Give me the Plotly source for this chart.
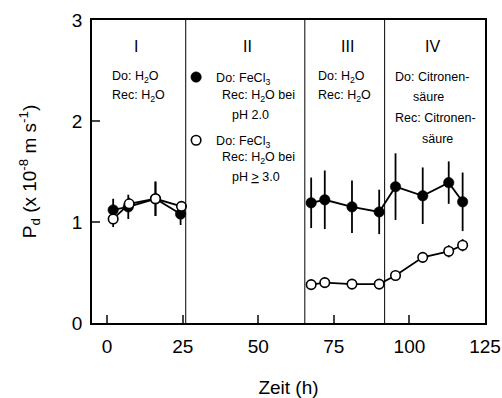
import plotly.graph_objects as go

# ---- data ----
# filled circles: Do FeCl3 / Rec H2O pH 2.0 (and section I, III, IV)
filled_x = [2, 7, 16, 24.3, None, 67.5, 72.0, 81.0, 90.0, 95.4, 104.4, 113.0, 117.6]
filled_y = [1.12, 1.15, 1.23, 1.08, None, 1.19, 1.22, 1.15, 1.10, 1.35, 1.26, 1.39, 1.20]
filled_err = [0.11, 0.12, 0.17, 0.11, None, 0.25, 0.29, 0.26, 0.22, 0.33, 0.28, 0.21, 0.29]

# open circles: Do FeCl3 / Rec H2O pH >= 3.0
open_x = [2, 7.3, 16, 24.6, None, 67.5, 72.0, 81.0, 90.0, 95.4, 104.4, 113.0, 117.6]
open_y = [1.03, 1.18, 1.23, 1.155, None, 0.38, 0.40, 0.385, 0.385, 0.47, 0.65, 0.71, 0.77]
open_err = [0.08, 0.06, 0.17, 0.05, None, 0.02, 0.02, 0.02, 0.02, 0.03, 0.03, 0.06, 0.06]

section_bounds = [26.0, 65.4, 91.8]
section_labels = ["I", "II", "III", "IV"]
section_label_x = [9.4, 46.4, 79.4, 107.5]

x_ticks = [0, 25, 50, 75, 100, 125]
y_ticks = [0, 1, 2, 3]

FONT = "Arial, Liberation Sans, sans-serif"

fig = go.Figure()

def add_series(xs, ys, errs, fill, size, lw, name, grp):
    fig.add_trace(go.Scatter(
        x=xs, y=ys, mode="lines", showlegend=False, hoverinfo="skip",
        line=dict(color="black", width=1.8),
        error_y=dict(type="data", array=errs, visible=True, color="black", thickness=1.8, width=0),
        legendgroup=grp,
    ))
    fig.add_trace(go.Scatter(
        x=xs, y=ys, mode="markers", name=name, legendgroup=grp,
        marker=dict(symbol="circle", size=size, color=fill, line=dict(color="black", width=lw)),
    ))

add_series(filled_x, filled_y, filled_err, "black", 10.5, 0.5, "Do: FeCl<sub>3</sub>", "a")
add_series(open_x, open_y, open_err, "white", 9.5, 1.6, "Do: FeCl<sub>3</sub>", "b")

shapes = []
for b in section_bounds:
    shapes.append(dict(type="line", xref="x", yref="paper", x0=b, x1=b, y0=0, y1=1,
                       line=dict(color="black", width=1)))

ann = []
for lab, lx in zip(section_labels, section_label_x):
    ann.append(dict(x=lx, y=2.74, xref="x", yref="y", text=lab, showarrow=False,
                    font=dict(family=FONT, size=16, color="black"), xanchor="center", yanchor="middle"))

def txt(x, y, t, anchor="left"):
    ann.append(dict(x=x, y=y, xref="x", yref="y", text=t, showarrow=False,
                    font=dict(family=FONT, size=12.5, color="black"), xanchor=anchor, yanchor="middle"))

# section I
txt(1.1, 2.44, "Do: H<sub>2</sub>O")
txt(1.1, 2.245, "Rec: H<sub>2</sub>O")
# section II (legend continuation)
txt(37.2, 2.245, "Rec: H<sub>2</sub>O bei")
txt(40.6, 2.06, "pH 2.0")
txt(37.2, 1.635, "Rec: H<sub>2</sub>O bei")
txt(40.6, 1.445, "pH <u>></u> 3.0")
# section III
txt(69.2, 2.44, "Do: H<sub>2</sub>O")
txt(69.2, 2.245, "Rec: H<sub>2</sub>O")
# section IV
txt(94.6, 2.44, "Do: Citronen-")
txt(106.3, 2.235, "säure", "center")
txt(94.6, 2.03, "Rec: Citronen-")
txt(109.2, 1.82, "säure", "center")

fig.update_layout(
    width=502, height=398,
    margin=dict(l=92, r=17, t=20, b=75, autoexpand=False),
    paper_bgcolor="white", plot_bgcolor="white",
    font=dict(family=FONT, color="black"),
    shapes=shapes, annotations=ann,
    showlegend=True,
    legend=dict(x=0.214, y=0.86, xanchor="left", yanchor="top",
                bgcolor="rgba(0,0,0,0)", font=dict(family=FONT, size=12.5),
                tracegroupgap=44, itemwidth=30),
)
fig.update_xaxes(
    range=[-5, 125], tickvals=x_ticks, ticks="inside", ticklen=8, tickwidth=1.5,
    showline=True, linecolor="black", linewidth=1.5, mirror=True, showgrid=False, zeroline=False,
    tickfont=dict(family=FONT, size=19), ticklabelstandoff=5, automargin=False,
    title=dict(text="Zeit (h)", font=dict(family=FONT, size=19), standoff=26),
)
fig.update_yaxes(
    range=[0, 3], tickvals=y_ticks, ticks="inside", ticklen=8, tickwidth=1.5,
    showline=True, linecolor="black", linewidth=1.5, mirror=True, showgrid=False, zeroline=False,
    tickfont=dict(family=FONT, size=19), ticklabelstandoff=4, automargin=False,
    title=dict(text="P<sub>d</sub> (x 10<sup>-8</sup> m s<sup>-1</sup>)", font=dict(family=FONT, size=19), standoff=30),
)

fig.write_html("out.html")
